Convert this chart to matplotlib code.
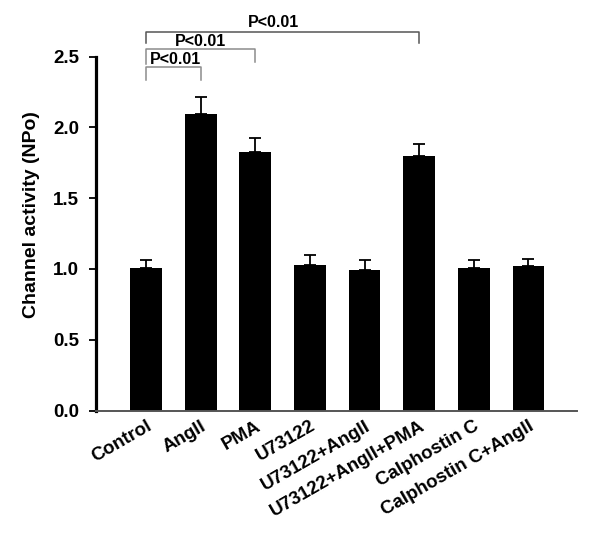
import matplotlib
matplotlib.use("Agg")
import matplotlib.pyplot as plt

categories = ["Control", "AngII", "PMA", "U73122", "U73122+AngII",
              "U73122+AngII+PMA", "Calphostin C", "Calphostin C+AngII"]
means = [1.01, 2.095, 1.825, 1.03, 0.99, 1.795, 1.01, 1.02]
sems = [0.055, 0.12, 0.10, 0.07, 0.07, 0.09, 0.05, 0.05]
yticks = [0.0, 0.5, 1.0, 1.5, 2.0, 2.5]
# brackets: (from index, to index, bar height, left leg bottom, right leg bottom, colour)
brackets = [(0, 1, 2.43, 2.336, 2.336, '#8c8c8c'),
            (0, 2, 2.553, 2.45, 2.465, '#8c8c8c'),
            (0, 5, 2.677, 2.595, 2.595, '#555555')]
# labels: (x in category units, y, text)
plabels = [(0.54, 2.477, "P<0.01"),
           (1.0, 2.606, "P<0.01"),
           (2.34, 2.74, "P<0.01")]

plt.rcParams['font.family'] = ['Liberation Sans', 'DejaVu Sans']
fig = plt.figure(figsize=(6.0, 5.42), dpi=100)
ax = fig.add_axes([0.16, 0.2426, 0.8017, 0.6528])

x = list(range(len(categories)))
ax.bar(x, means, width=0.58, color='black', zorder=2)
ax.errorbar(x, means, yerr=[[0] * len(sems), sems], fmt='none', ecolor='black',
            elinewidth=1.3, capsize=4.2, capthick=1.3, zorder=3)

ax.set_xlim(-0.916, 7.89)
ax.set_ylim(0, 2.5)
ax.set_yticks(yticks)
ax.set_yticklabels([f"{v:.1f}" for v in yticks], fontsize=13.5, fontweight='bold')
ax.set_xticks(x)
ax.set_xticklabels(categories, rotation=30, ha='right', rotation_mode='anchor',
                   fontsize=13.5, fontweight='bold')
ax.tick_params(axis='x', length=0, pad=5)
ax.tick_params(axis='y', length=5, width=1.3, direction='out', pad=7)
ax.set_ylabel("Channel activity (NPo)", fontsize=14, fontweight='bold')
ax.yaxis.set_label_coords(-0.116, 0.553)
for s in ['top', 'right']:
    ax.spines[s].set_visible(False)
ax.spines['left'].set_linewidth(2.3)
ax.spines['bottom'].set_linewidth(1.4)
ax.spines['bottom'].set_color('#555555')

for i0, i1, yb, yl0, yl1, col in brackets:
    ax.plot([x[i0], x[i0], x[i1], x[i1]], [yl0, yb, yb, yl1], color=col,
            lw=1.1, clip_on=False, zorder=1)
for px, py, lab in plabels:
    ax.text(px, py, lab, ha='center', va='center',
            fontsize=11.5, fontweight='bold', clip_on=False)

fig.savefig("out.png", dpi=100)
